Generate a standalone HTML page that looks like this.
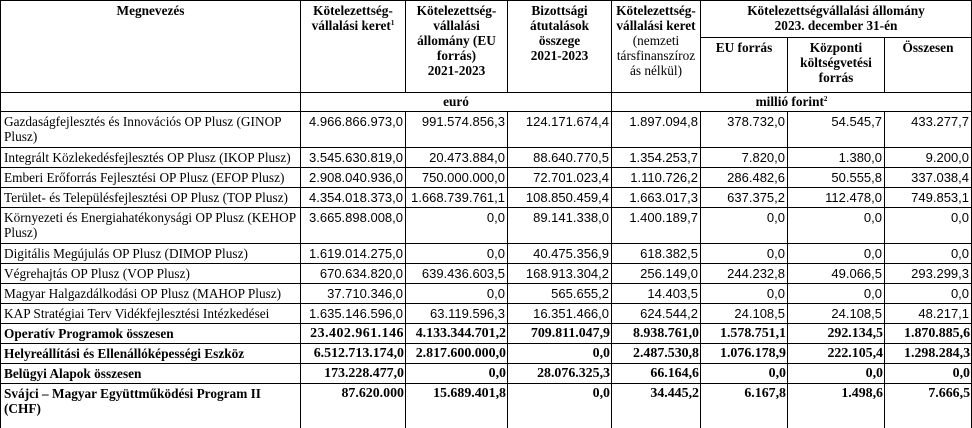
<!DOCTYPE html>
<html><head><meta charset="utf-8">
<style>
html,body{margin:0;padding:0;background:#fff;width:972px;height:428px;overflow:hidden}
table{border-collapse:collapse;table-layout:fixed;width:971px;font-family:"Liberation Serif",serif;font-size:13.3px;color:#000}
td,th{border:1.5px solid #000;padding:0 2px;line-height:15px;overflow:hidden}
th{font-weight:bold;vertical-align:top;text-align:center;padding-top:2px}
td.n{text-align:right;font-family:"Liberation Sans",sans-serif;font-size:13px;vertical-align:top;padding-top:2px;white-space:nowrap}
td.t{vertical-align:top;padding-top:2px;padding-left:3px}
tr.b td{font-weight:bold}
tr.b td.n{font-family:"Liberation Serif",serif;font-size:13.9px;padding-right:1px}
.nb{font-weight:normal}
sup{font-size:7px;vertical-align:5px;line-height:0}
</style></head><body>
<table>
<colgroup><col style="width:300px"><col style="width:105px"><col style="width:102px"><col style="width:104px"><col style="width:89px"><col style="width:87px"><col style="width:97px"><col style="width:87px"></colgroup>
<tr style="height:37px">
<th rowspan="2">Megnevezés</th>
<th rowspan="2">Kötelezettség-vállalási keret<sup>1</sup></th>
<th rowspan="2">Kötelezettség-vállalási állomány (EU forrás)<br>2021-2023</th>
<th rowspan="2">Bizottsági átutalások összege<br>2021-2023</th>
<th rowspan="2">Kötelezettség-vállalási keret <span class="nb">(nemzeti társfinanszíroz ás nélkül)</span></th>
<th colspan="3">Kötelezettségvállalási állomány<br>2023. december 31-én</th>
</tr>
<tr style="height:55px">
<th>EU forrás</th><th>Központi költségvetési forrás</th><th>Összesen</th>
</tr>
<tr style="height:19px"><th style="padding-top:1px"></th><th colspan="3" style="padding-top:1px">euró</th><th colspan="4" style="padding-top:1px">millió forint<sup>2</sup></th></tr>
<tr style="height:36px"><td class="t">Gazdaságfejlesztés és Innovációs OP Plusz (GINOP<br>Plusz)</td><td class="n">4.966.866.973,0</td><td class="n">991.574.856,3</td><td class="n">124.171.674,4</td><td class="n">1.897.094,8</td><td class="n">378.732,0</td><td class="n">54.545,7</td><td class="n">433.277,7</td></tr>
<tr style="height:20px"><td class="t">Integrált Közlekedésfejlesztés OP Plusz (IKOP Plusz)</td><td class="n">3.545.630.819,0</td><td class="n">20.473.884,0</td><td class="n">88.640.770,5</td><td class="n">1.354.253,7</td><td class="n">7.820,0</td><td class="n">1.380,0</td><td class="n">9.200,0</td></tr>
<tr style="height:20px"><td class="t">Emberi Erőforrás Fejlesztési OP Plusz (EFOP Plusz)</td><td class="n">2.908.040.936,0</td><td class="n">750.000.000,0</td><td class="n">72.701.023,4</td><td class="n">1.110.726,2</td><td class="n">286.482,6</td><td class="n">50.555,8</td><td class="n">337.038,4</td></tr>
<tr style="height:20px"><td class="t">Terület- és Településfejlesztési OP Plusz (TOP Plusz)</td><td class="n">4.354.018.373,0</td><td class="n">1.668.739.761,1</td><td class="n">108.850.459,4</td><td class="n">1.663.017,3</td><td class="n">637.375,2</td><td class="n">112.478,0</td><td class="n">749.853,1</td></tr>
<tr style="height:36px"><td class="t" style="white-space:nowrap">Környezeti és Energiahatékonysági OP Plusz (KEHOP<br>Plusz)</td><td class="n">3.665.898.008,0</td><td class="n">0,0</td><td class="n">89.141.338,0</td><td class="n">1.400.189,7</td><td class="n">0,0</td><td class="n">0,0</td><td class="n">0,0</td></tr>
<tr style="height:20px"><td class="t">Digitális Megújulás OP Plusz (DIMOP Plusz)</td><td class="n">1.619.014.275,0</td><td class="n">0,0</td><td class="n">40.475.356,9</td><td class="n">618.382,5</td><td class="n">0,0</td><td class="n">0,0</td><td class="n">0,0</td></tr>
<tr style="height:20px"><td class="t">Végrehajtás OP Plusz (VOP Plusz)</td><td class="n">670.634.820,0</td><td class="n">639.436.603,5</td><td class="n">168.913.304,2</td><td class="n">256.149,0</td><td class="n">244.232,8</td><td class="n">49.066,5</td><td class="n">293.299,3</td></tr>
<tr style="height:20px"><td class="t">Magyar Halgazdálkodási OP Plusz (MAHOP Plusz)</td><td class="n">37.710.346,0</td><td class="n">0,0</td><td class="n">565.655,2</td><td class="n">14.403,5</td><td class="n">0,0</td><td class="n">0,0</td><td class="n">0,0</td></tr>
<tr style="height:20px"><td class="t">KAP Stratégiai Terv Vidékfejlesztési Intézkedései</td><td class="n">1.635.146.596,0</td><td class="n">63.119.596,3</td><td class="n">16.351.466,0</td><td class="n">624.544,2</td><td class="n">24.108,5</td><td class="n">24.108,5</td><td class="n">48.217,1</td></tr>
<tr class="b" style="height:20px"><td class="t">Operatív Programok összesen</td><td class="n" style="letter-spacing:0.5px">23.402.961.146</td><td class="n">4.133.344.701,2</td><td class="n">709.811.047,9</td><td class="n">8.938.761,0</td><td class="n">1.578.751,1</td><td class="n">292.134,5</td><td class="n">1.870.885,6</td></tr>
<tr class="b" style="height:20px"><td class="t">Helyreállítási és Ellenállóképességi Eszköz</td><td class="n">6.512.713.174,0</td><td class="n">2.817.600.000,0</td><td class="n">0,0</td><td class="n">2.487.530,8</td><td class="n">1.076.178,9</td><td class="n">222.105,4</td><td class="n">1.298.284,3</td></tr>
<tr class="b" style="height:20px"><td class="t">Belügyi Alapok összesen</td><td class="n">173.228.477,0</td><td class="n">0,0</td><td class="n">28.076.325,3</td><td class="n">66.164,6</td><td class="n">0,0</td><td class="n">0,0</td><td class="n">0,0</td></tr>
<tr class="b" style="height:45px"><td class="t">Svájci – Magyar Együttműködési Program II<br>(CHF)</td><td class="n">87.620.000</td><td class="n">15.689.401,8</td><td class="n">0,0</td><td class="n">34.445,2</td><td class="n">6.167,8</td><td class="n">1.498,6</td><td class="n">7.666,5</td></tr>
</table>
</body></html>
